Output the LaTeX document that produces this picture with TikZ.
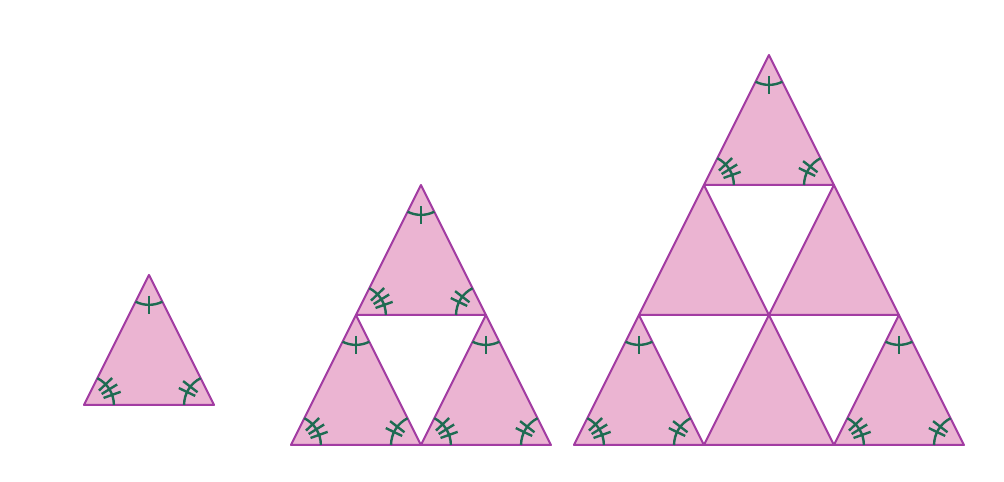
\documentclass[tikz,border=0pt]{standalone}

\definecolor{tripink}{HTML}{EBB4D2}
\definecolor{triedge}{HTML}{A23CA2}
\definecolor{markgreen}{HTML}{1E6B52}

\tikzset{
  tri/.style={fill=tripink,draw=triedge,line width=1.5pt,line join=round},
  angmark/.style={draw=markgreen,line width=1.8pt},
}

% pink triangle with its base left corner at (#1,#2)
\newcommand{\pinktri}[2]{%
  \draw[tri] (#1,#2) -- ++(1,0) -- ++(-0.5,1) -- cycle;}

% angle marks of the triangle with base left corner at (#1,#2)
\newcommand{\trimarks}[2]{%
  % top: one tick
  \draw[angmark] (#1+0.5,#2+1) ++(243.4:0.23) arc[start angle=243.4,end angle=296.6,radius=0.23];
  \draw[angmark] (#1+0.5,#2+1) ++(270:0.16) -- ++(270:0.14);
  % left: three ticks
  \draw[angmark] (#1,#2) ++(0:0.23) arc[start angle=0,end angle=63.4,radius=0.23];
  \foreach \a in {19.7,31.7,43.7}
    \draw[angmark] (#1,#2) ++(\a:0.16) -- ++(\a:0.14);
  % right: two ticks
  \draw[angmark] (#1+1,#2) ++(116.6:0.23) arc[start angle=116.6,end angle=180,radius=0.23];
  \foreach \a in {142.3,154.3}
    \draw[angmark] (#1+1,#2) ++(\a:0.16) -- ++(\a:0.14);
}

\begin{document}
\begin{tikzpicture}[x=97.5pt,y=97.5pt]
  \useasboundingbox (0,0) rectangle (7.723,3.7);

  % one triangle
  \pinktri{0.646}{0.585}
  \trimarks{0.646}{0.585}

  % three triangles
  \pinktri{2.238}{0.277}
  \pinktri{3.238}{0.277}
  \pinktri{2.738}{1.277}
  \trimarks{2.238}{0.277}
  \trimarks{3.238}{0.277}
  \trimarks{2.738}{1.277}

  % six triangles
  \pinktri{4.415}{0.277}
  \pinktri{5.415}{0.277}
  \pinktri{6.415}{0.277}
  \pinktri{4.915}{1.277}
  \pinktri{5.915}{1.277}
  \pinktri{5.415}{2.277}
  \trimarks{4.415}{0.277}
  \trimarks{6.415}{0.277}
  \trimarks{5.415}{2.277}
\end{tikzpicture}
\end{document}
